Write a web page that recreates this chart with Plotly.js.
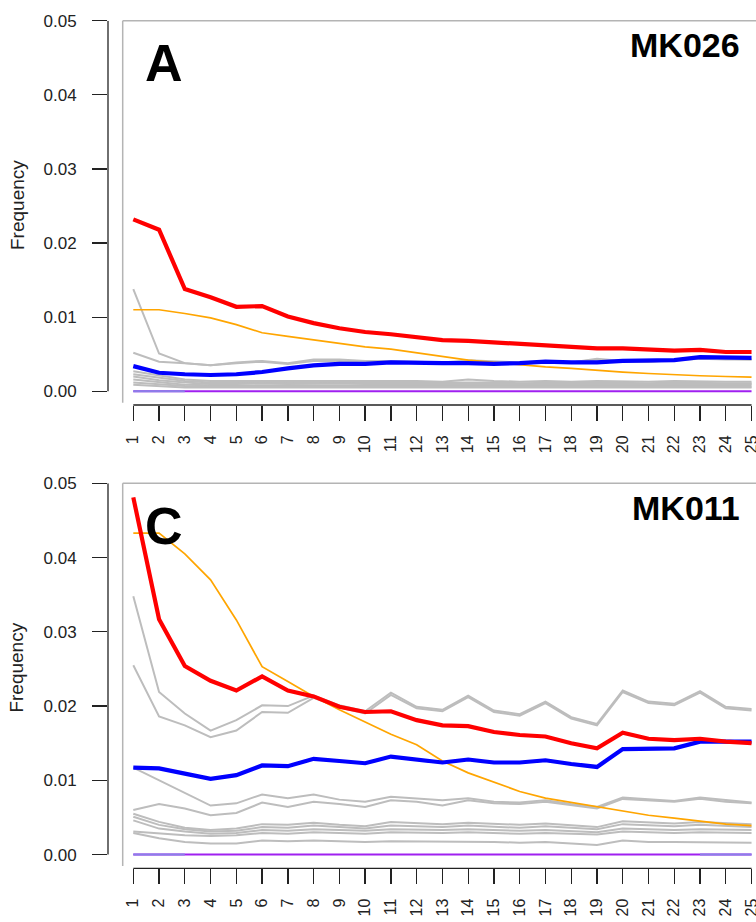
<!DOCTYPE html>
<html>
<head>
<meta charset="utf-8">
<script src="https://cdn.plot.ly/plotly-3.0.1.min.js"></script>
<style>
html,body{margin:0;padding:0;background:#fff;}
#chart{width:756px;height:922px;}
</style>
</head>
<body>
<div id="chart"></div>
<script>
// ---------- data ----------
const positions = [1,2,3,4,5,6,7,8,9,10,11,12,13,14,15,16,17,18,19,20,21,22,23,24,25];
const tickLabels = positions.map(String);
const yTicks = [0, 0.01, 0.02, 0.03, 0.04, 0.05];
const yTickLabels = ["0.00","0.01","0.02","0.03","0.04","0.05"];

// Panel A : MK026
const A_red    = [0.0232,0.0218,0.0138,0.0127,0.0114,0.0115,0.0101,0.0092,0.0085,0.0080,0.0077,0.0073,0.0069,0.0068,0.0066,0.0064,0.0063,0.0060,0.0058,0.0058,0.0056,0.0055,0.0056,0.0053,0.0053];
const A_orange = [0.0110,0.0110,0.0105,0.0099,0.0090,0.0079,0.0074,0.0069,0.0065,0.0060,0.0057,0.0052,0.0047,0.0042,0.0039,0.0036,0.0033,0.0031,0.0028,0.0026,0.0024,0.0022,0.0021,0.0020,0.0019];
const A_blue   = [0.0034,0.0025,0.0023,0.0022,0.0023,0.0026,0.0031,0.0035,0.0037,0.0037,0.0039,0.0038,0.0038,0.0038,0.0037,0.0038,0.0040,0.0039,0.0039,0.0041,0.0041,0.0042,0.0046,0.0045,0.0045];
const A_gray1  = [0.0138,0.0051,0.0038,0.0035,0.0038,0.0040,0.0037,0.0041,0.0041,0.0039,0.0040,0.0039,0.0038,0.0041,0.0039,0.0038,0.0040,0.0039,0.0043,0.0040,0.0040,0.0042,0.0044,0.0043,0.0043];
const A_gray2  = [0.0052,0.0040,0.0038,0.0035,0.0039,0.0041,0.0038,0.0043,0.0043,0.0041,0.0041,0.0040,0.0039,0.0042,0.0040,0.0039,0.0041,0.0039,0.0044,0.0041,0.0040,0.0043,0.0045,0.0044,0.0043];
const A_gray3  = [0.0027,0.0022,0.0016,0.0014,0.0014,0.0015,0.0014,0.0015,0.0015,0.0014,0.0014,0.0014,0.0013,0.0016,0.0014,0.0013,0.0014,0.0013,0.0014,0.0013,0.0013,0.0014,0.0013,0.0013,0.0013];
const A_gray4  = [0.0023,0.0018,0.0014,0.0012,0.0012,0.0013,0.0012,0.0013,0.0013,0.0012,0.0012,0.0012,0.0012,0.0013,0.0012,0.0011,0.0012,0.0012,0.0012,0.0011,0.0011,0.0012,0.0011,0.0011,0.0011];
const A_gray5  = [0.0020,0.0015,0.0012,0.0010,0.0010,0.0011,0.0010,0.0011,0.0011,0.0010,0.0010,0.0010,0.0010,0.0011,0.0010,0.0010,0.0010,0.0010,0.0010,0.0010,0.0010,0.0010,0.0010,0.0010,0.0010];
const A_gray6  = [0.0016,0.0012,0.0009,0.0008,0.0008,0.0009,0.0008,0.0009,0.0009,0.0008,0.0008,0.0008,0.0008,0.0009,0.0008,0.0008,0.0008,0.0008,0.0009,0.0008,0.0008,0.0008,0.0008,0.0008,0.0008];
const A_gray7  = [0.0012,0.0009,0.0007,0.0006,0.0006,0.0006,0.0006,0.0007,0.0006,0.0006,0.0006,0.0006,0.0006,0.0007,0.0006,0.0006,0.0006,0.0006,0.0006,0.0006,0.0006,0.0006,0.0006,0.0006,0.0006];
const A_gray8  = [0.0009,0.0007,0.0005,0.0005,0.0005,0.0005,0.0005,0.0005,0.0005,0.0005,0.0005,0.0005,0.0005,0.0005,0.0005,0.0005,0.0005,0.0005,0.0005,0.0005,0.0005,0.0005,0.0005,0.0005,0.0005];
const A_purple = [0,0,0,0,0,0,0,0,0,0,0,0,0,0,0,0,0,0,0,0,0,0,0,0,0];
const A_lavenderX = [1,2,3];
const A_lavender  = [0,0,0];

// Panel C : MK011
const C_red    = [0.0481,0.0317,0.0254,0.0234,0.0221,0.0240,0.0221,0.0213,0.0199,0.0192,0.0193,0.0181,0.0174,0.0173,0.0165,0.0161,0.0159,0.0150,0.0143,0.0164,0.0156,0.0154,0.0156,0.0152,0.0150];
const C_orange = [0.0433,0.0433,0.0405,0.0370,0.0316,0.0253,0.0233,0.0213,0.0195,0.0178,0.0162,0.0148,0.0126,0.0110,0.0097,0.0085,0.0076,0.0070,0.0064,0.0058,0.0053,0.0049,0.0045,0.0041,0.0039];
const C_blue   = [0.0117,0.0116,0.0109,0.0102,0.0107,0.0120,0.0119,0.0129,0.0126,0.0123,0.0132,0.0128,0.0124,0.0128,0.0124,0.0124,0.0127,0.0122,0.0118,0.0142,0.0143,0.0143,0.0152,0.0152,0.0152];
const C_gray1  = [0.0348,0.0219,0.0190,0.0167,0.0181,0.0201,0.0200,0.0214,0.0201,0.0193,0.0218,0.0199,0.0195,0.0214,0.0194,0.0189,0.0206,0.0185,0.0176,0.0221,0.0206,0.0203,0.0220,0.0199,0.0196];
const C_gray2  = [0.0255,0.0186,0.0174,0.0158,0.0167,0.0192,0.0191,0.0211,0.0198,0.0190,0.0215,0.0197,0.0193,0.0212,0.0192,0.0187,0.0204,0.0183,0.0174,0.0219,0.0204,0.0201,0.0218,0.0197,0.0194];
const C_gray3  = [0.0117,0.0100,0.0083,0.0066,0.0069,0.0081,0.0076,0.0081,0.0074,0.0071,0.0078,0.0076,0.0073,0.0076,0.0071,0.0070,0.0073,0.0068,0.0064,0.0077,0.0074,0.0072,0.0077,0.0073,0.0070];
const C_gray4  = [0.0060,0.0068,0.0062,0.0053,0.0056,0.0070,0.0064,0.0071,0.0068,0.0064,0.0073,0.0071,0.0066,0.0073,0.0069,0.0068,0.0071,0.0066,0.0062,0.0075,0.0073,0.0071,0.0075,0.0071,0.0069];
const C_gray5  = [0.0055,0.0044,0.0036,0.0033,0.0035,0.0041,0.0040,0.0043,0.0040,0.0038,0.0044,0.0042,0.0041,0.0043,0.0041,0.0040,0.0042,0.0039,0.0037,0.0045,0.0043,0.0042,0.0044,0.0042,0.0041];
const C_gray6  = [0.0051,0.0040,0.0034,0.0031,0.0032,0.0037,0.0036,0.0039,0.0037,0.0035,0.0039,0.0038,0.0037,0.0039,0.0037,0.0036,0.0038,0.0036,0.0034,0.0041,0.0039,0.0038,0.0040,0.0038,0.0037];
const C_gray7  = [0.0046,0.0035,0.0031,0.0028,0.0029,0.0033,0.0032,0.0034,0.0033,0.0032,0.0034,0.0033,0.0033,0.0034,0.0033,0.0032,0.0033,0.0032,0.0030,0.0035,0.0034,0.0033,0.0034,0.0033,0.0033];
const C_gray8  = [0.0031,0.0028,0.0026,0.0025,0.0026,0.0029,0.0028,0.0030,0.0029,0.0028,0.0030,0.0029,0.0029,0.0030,0.0029,0.0028,0.0029,0.0028,0.0027,0.0031,0.0030,0.0029,0.0030,0.0029,0.0029];
const C_gray9  = [0.0029,0.0022,0.0017,0.0015,0.0015,0.0019,0.0018,0.0019,0.0018,0.0017,0.0018,0.0018,0.0017,0.0018,0.0017,0.0016,0.0017,0.0015,0.0013,0.0019,0.0017,0.0017,0.0017,0.0016,0.0016];
const C_purple = [0,0,0,0,0,0,0,0,0,0,0,0,0,0,0,0,0,0,0,0,0,0,0,0,0];
const C_lavenderX = [1,2,3,22,23,24,25];
const C_lavender  = [0,0,0,null,0,0,0];

const panelLabels = ["A","C"];
const sampleNames = ["MK026","MK011"];
const yTitle = "Frequency";

// ---------- styling ----------
const FONT = "Liberation Sans, Arial, Helvetica, sans-serif";
const GRAY = "#bdbdbd";
function line(x, y, color, width, xa, ya){
  return {x:x, y:y, type:"scatter", mode:"lines", xaxis:xa, yaxis:ya,
          line:{color:color, width:width}, hoverinfo:"skip", showlegend:false, connectgaps:false};
}
const traces = [];
function panel(grays, orange, blue, red, purple, lavX, lav, xa, ya){
  grays.forEach(g => traces.push(line(positions, g, GRAY, 2, xa, ya)));
  traces.push(line(positions, orange, "#FFA500", 1.7, xa, ya));
  traces.push(line(positions, blue, "#0000FF", 4.2, xa, ya));
  traces.push(line(positions, red, "#FF0000", 4.2, xa, ya));
  traces.push(line(positions, purple, "#A020F0", 2, xa, ya));
  traces.push(line(lavX, lav, "#8a7fe8", 2, xa, ya));
}
panel([A_gray1,A_gray2,A_gray3,A_gray4,A_gray5,A_gray6,A_gray7,A_gray8], A_orange, A_blue, A_red, A_purple, A_lavenderX, A_lavender, "x", "y");
panel([C_gray1,C_gray2,C_gray3,C_gray4,C_gray5,C_gray6,C_gray7,C_gray8,C_gray9], C_orange, C_blue, C_red, C_purple, C_lavenderX, C_lavender, "x2", "y2");

const W = 756, H = 922, L = 108;
const plotW = W - L;
// pixel geometry of the two panels
const pA = {top:20.7, bottom:405};
const pC = {top:483.3, bottom:868.3};
const pxPerX = 25.76, x1px = 133.3;
const xRange = [1 - (x1px - L)/pxPerX, 1 + (W - x1px)/pxPerX];
const yPxPerUnit = 370.6/0.05;
const yRange = [-13.7/yPxPerUnit, 0.05];

function dom(p){ return [1 - p.bottom/H, 1 - p.top/H]; }

function xaxis(domain, anchor){
  return {domain:[0,1], anchor:anchor, range:xRange, showgrid:false, zeroline:false, showline:false,
    tickmode:"array", tickvals:positions, ticktext:tickLabels, ticks:"outside", ticklen:15, tickwidth:1.3,
    tickcolor:"#222", tickangle:-90, ticklabelstandoff:8, ticklabeloverflow:"allow",
    tickfont:{family:FONT, size:16, color:"#222"}, fixedrange:true};
}
function yaxis(domain, anchor){
  return {domain:domain, anchor:anchor, range:yRange, showgrid:false, zeroline:false, showline:false,
    tickmode:"array", tickvals:yTicks, ticktext:yTickLabels, ticks:"outside", ticklen:15, tickwidth:1.3,
    tickcolor:"#222", ticklabelstandoff:12, ticklabeloverflow:"allow",
    tickfont:{family:FONT, size:17, color:"#222"}, fixedrange:true};
}

const shapes = [];
[["x","y"],["x2","y2"]].forEach(([xa,ya]) => {
  // R-style y axis line (0 to 0.05)
  shapes.push({type:"line", xref:xa+" domain", yref:ya, x0:0, x1:0, y0:yTicks[0], y1:yTicks[yTicks.length-1], line:{color:"#222", width:1.3}});
  // R-style x axis line (first to last position)
  shapes.push({type:"line", xref:xa, yref:ya+" domain", x0:positions[0], x1:positions[positions.length-1], y0:0, y1:0, line:{color:"#222", width:1.3}});
  // light gray box (left + top)
  const bx = (122.7 - L)/plotW;
  shapes.push({type:"line", xref:xa+" domain", yref:ya+" domain", x0:bx, x1:bx, y0:0.006, y1:1, line:{color:"#b4b4b4", width:1.5}});
  shapes.push({type:"line", xref:xa+" domain", yref:ya+" domain", x0:bx, x1:1.02, y0:1, y1:1, line:{color:"#b4b4b4", width:1.5}});
});

const annotations = [];
[[pA,0],[pC,1]].forEach(([p,i]) => {
  const off = p.top - pA.top;
  annotations.push({text:panelLabels[i], xref:"paper", yref:"paper", x:(164 - L)/plotW, y:1 - (63+off)/H,
    xanchor:"center", yanchor:"middle", showarrow:false, font:{family:FONT, size:52, color:"#000", weight:"bold"}});
  annotations.push({text:sampleNames[i], xref:"paper", yref:"paper", x:(742 - L)/plotW, y:1 - (45+off)/H,
    xanchor:"right", yanchor:"middle", showarrow:false, font:{family:FONT, size:34, color:"#000", weight:"bold"}});
  annotations.push({text:yTitle, xref:"paper", yref:"paper", x:(17 - L)/plotW, y:1 - (205+off)/H,
    xanchor:"center", yanchor:"middle", textangle:-90, showarrow:false, font:{family:FONT, size:19, color:"#222"}});
});

const layout = {
  width:W, height:H, margin:{l:L, r:0, t:0, b:0}, paper_bgcolor:"#fff", plot_bgcolor:"rgba(0,0,0,0)",
  showlegend:false,
  xaxis: xaxis(null, "y"), yaxis: yaxis(dom(pA), "x"),
  xaxis2: xaxis(null, "y2"), yaxis2: yaxis(dom(pC), "x2"),
  shapes:shapes, annotations:annotations
};
Plotly.newPlot("chart", traces, layout, {displayModeBar:false, staticPlot:true});
</script>
</body>
</html>
